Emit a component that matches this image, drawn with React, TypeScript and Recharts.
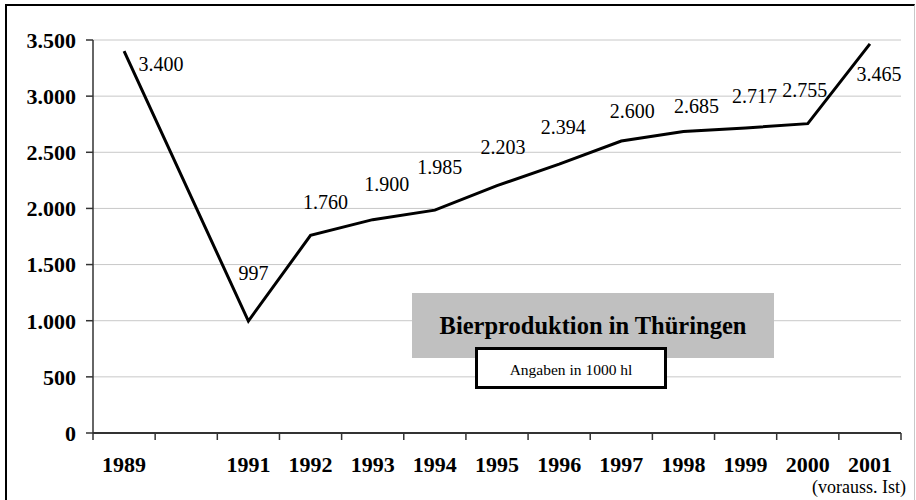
import React from 'react';
import { LineChart, Line, XAxis, YAxis, CartesianGrid, LabelList } from 'recharts';

// ── Daten (in 1000 hl) ─────────────────────────────────────
const YEARS = ['1989', '1990', '1991', '1992', '1993', '1994', '1995', '1996', '1997', '1998', '1999', '2000', '2001'];
const YEAR_LABELS = ['1989', '', '1991', '1992', '1993', '1994', '1995', '1996', '1997', '1998', '1999', '2000', '2001'];
const PRODUCTION = [3400, null, 997, 1760, 1900, 1985, 2203, 2394, 2600, 2685, 2717, 2755, 3465];
const Y_TICKS = [0, 500, 1000, 1500, 2000, 2500, 3000, 3500];

// Lage der Datenbeschriftungen (wie im Original von Hand verschoben)
const LABEL_DX = [37, 0, 5, 15, 14, 5, 6, 4, 11, 13, 9, -3, 9];
const LABEL_DY = [13, 0, -48, -33, -36, -43, -39, -37, -30, -26, -32, -34, 30];

const data = YEARS.map((year, i) => ({ year, value: PRODUCTION[i] }));

const W = 916;
const H = 500;
const MARGIN = { top: 40, right: 15, bottom: 7, left: 0 };
const Y_AXIS_W = 93;
const STEP = (W - MARGIN.left - MARGIN.right - Y_AXIS_W) / YEARS.length;
const FONT = '"Liberation Serif", "Times New Roman", serif';
const AXIS = '#333';

const fmt = (v: number) => String(v).replace(/\B(?=(\d{3})+(?!\d))/g, '.');

const YearTick = ({ x, y, payload, index }: any) => {
  const i = index ?? payload?.index ?? 0;
  const y0 = y - 7;
  return (
    <g>
      <line x1={x - STEP / 2} x2={x - STEP / 2} y1={y0} y2={y0 + 7} stroke={AXIS} strokeWidth={1.5} />
      {i === YEARS.length - 1 && (
        <line x1={x + STEP / 2} x2={x + STEP / 2} y1={y0} y2={y0 + 7} stroke={AXIS} strokeWidth={1.5} />
      )}
      <text x={x} y={y0 + 31} textAnchor="middle" dominantBaseline="central" fontFamily={FONT}
        fontSize={22} fontWeight="bold" fill="#000">
        {YEAR_LABELS[i]}
      </text>
    </g>
  );
};

const renderValueLabel = (props: any) => {
  const { x, y, value, index } = props;
  if (value == null) return null;
  return (
    <text key={`lbl-${index}`} x={x + LABEL_DX[index]} y={y + LABEL_DY[index]} textAnchor="middle"
      dominantBaseline="central" fontFamily={FONT} fontSize={20} fill="#000"
      style={{ fontFamily: FONT }}>
      {fmt(value)}
    </text>
  );
};

export default function App() {
  return (
    <div style={{ position: 'absolute', left: 0, top: 0, width: W, height: H, background: '#fff', overflow: 'hidden', fontFamily: FONT }}>
      {/* Rahmen */}
      <div style={{ position: 'absolute', left: 5, top: 4, width: 907, height: 520, borderLeft: '2px solid #000', borderTop: '2px solid #000', borderRight: '1px solid #c8c8c8' }} />
      <LineChart width={W} height={H} data={data} margin={MARGIN}>
        <CartesianGrid vertical={false} stroke="#c8c8c8" />
        <XAxis dataKey="year" scale="band" interval={0} height={60} tickSize={7} tickMargin={0}
          tickLine={false} axisLine={{ stroke: AXIS, strokeWidth: 2 }} tick={<YearTick />} />
        <XAxis xAxisId="top" dataKey="year" scale="band" orientation="top" height={0} tick={false} tickLine={false}
          axisLine={{ stroke: '#888', strokeWidth: 1.5 }} />
        <YAxis width={Y_AXIS_W} domain={[0, 3500]} ticks={Y_TICKS} interval={0} tickFormatter={fmt}
          tickSize={7} tickMargin={10} axisLine={{ stroke: AXIS, strokeWidth: 1.5 }} tickLine={{ stroke: AXIS, strokeWidth: 1.5 }}
          tick={{ fill: '#000', fontSize: 22, fontWeight: 'bold', fontFamily: FONT }} />
        <YAxis yAxisId="right" orientation="right" width={0} domain={[0, 3500]} tick={false} tickLine={false}
          axisLine={{ stroke: '#888', strokeWidth: 1.5 }} />
        <Line type="linear" dataKey="value" stroke="#000" strokeWidth={3} dot={false} connectNulls isAnimationActive={false}>
          <LabelList dataKey="value" content={renderValueLabel} />
        </Line>
      </LineChart>
      {/* Titel */}
      <div style={{ position: 'absolute', left: 412, top: 293, width: 362, height: 65, background: '#c0c0c0',
        display: 'flex', alignItems: 'center', justifyContent: 'center', fontSize: 24.5, fontWeight: 'bold', color: '#000' }}>
        Bierproduktion in Thüringen
      </div>
      <div style={{ position: 'absolute', left: 475, top: 347, width: 186, height: 32, background: '#fff', border: '3px solid #000',
        display: 'flex', alignItems: 'center', justifyContent: 'center', fontSize: 15.5, color: '#000', paddingTop: 4, boxSizing: 'content-box' }}>
        Angaben in 1000 hl
      </div>
      <div style={{ position: 'absolute', left: 804, top: 477, width: 110, textAlign: 'center', fontSize: 18, lineHeight: '20px', color: '#000', whiteSpace: 'nowrap' }}>
        (vorauss. Ist)
      </div>
    </div>
  );
}
